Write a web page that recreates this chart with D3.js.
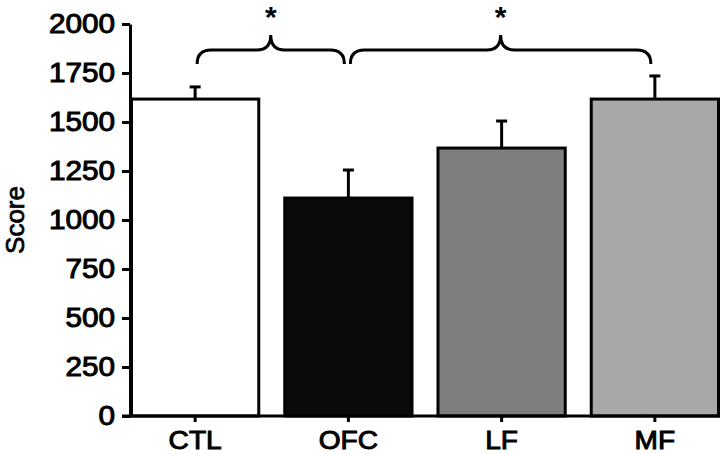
<!DOCTYPE html>
<html><head><meta charset="utf-8">
<script src="https://cdn.jsdelivr.net/npm/d3@7"></script>
<style>body{margin:0;background:#fff}svg{display:block}</style>
</head><body>
<svg id="c" width="720" height="454"></svg>
<script>
const categories = ["CTL", "OFC", "LF", "MF"];
const means = [1617, 1112, 1367, 1617];
const errors = [62, 143, 138, 118];
const fills = ["#ffffff", "#0a0a0a", "#7f7f7f", "#a8a8a8"];
const yTicks = [0, 250, 500, 750, 1000, 1250, 1500, 1750, 2000];
const brackets = [{from: "CTL", to: "OFC", label: "*"}, {from: "OFC", to: "MF", label: "*"}];

const svg = d3.select("#c");
const x = d3.scaleBand().domain(categories).range([130, 720]).paddingInner(0.15).paddingOuter(0.0);
const y = d3.scaleLinear().domain([0, 2000]).range([416, 24]);
const font = "Liberation Sans, Arial, sans-serif";
function widen(stretch) {
  return sel => sel.each(function() {
    const w = this.getComputedTextLength();
    d3.select(this).attr("textLength", w * stretch).attr("lengthAdjust", "spacingAndGlyphs");
  });
}

// bars
svg.selectAll("rect.bar").data(categories).enter().append("rect")
  .attr("x", d => x(d) + 1.5)
  .attr("y", (d, i) => y(means[i]))
  .attr("width", x.bandwidth() - 3)
  .attr("height", (d, i) => y(0) - y(means[i]))
  .attr("fill", (d, i) => fills[i])
  .attr("stroke", "#000").attr("stroke-width", 3);

// error bars
const eb = svg.append("g").attr("stroke", "#000").attr("stroke-width", 3);
categories.forEach((d, i) => {
  const cx = x(d) + x.bandwidth() / 2;
  eb.append("line").attr("x1", cx).attr("x2", cx).attr("y1", y(means[i])).attr("y2", y(means[i] + errors[i]));
  eb.append("line").attr("x1", cx - 5.5).attr("x2", cx + 5.5).attr("y1", y(means[i] + errors[i])).attr("y2", y(means[i] + errors[i]));
});

// y axis
const ya = svg.append("g").attr("transform", "translate(130,0)")
  .call(d3.axisLeft(y).tickValues(yTicks).tickFormat(d3.format("d")).tickSize(8).tickPadding(7).tickSizeOuter(0));
ya.select(".domain").attr("stroke-width", 3);
ya.selectAll(".tick line").attr("stroke-width", 3);
ya.selectAll("text").attr("font-family", font).attr("font-size", 27).attr("fill", "#000")
  .attr("stroke", "#000").attr("stroke-width", 1).call(widen(1.1));

// x axis baseline
const xa = svg.append("g").attr("transform", "translate(0,416)")
  .call(d3.axisBottom(x).tickSize(6).tickPadding(9).tickSizeOuter(0));
xa.select(".domain").attr("d", "M122,0H720").attr("stroke-width", 3);
xa.selectAll(".tick line").attr("stroke-width", 3);
xa.selectAll("text").attr("font-family", font).attr("font-size", 26).attr("fill", "#000")
  .attr("stroke", "#000").attr("stroke-width", 1).call(widen(1.08));

// y label
svg.append("text").attr("transform", "translate(24,220) rotate(-90)")
  .attr("text-anchor", "middle").attr("font-family", font).attr("font-size", 26)
  .attr("fill", "#000").attr("stroke", "#000").attr("stroke-width", 0.7).text("Score");

// braces
const yb = 64, yh = 50, yt = 35, r = 14;
brackets.forEach(b => {
  const x1 = x(b.from) + x.bandwidth() / 2 + 2;
  const x2 = x(b.to) + x.bandwidth() / 2 - 4;
  const xm = (x1 + x2) / 2;
  const p = d3.path();
  p.moveTo(x1, yb);
  p.quadraticCurveTo(x1, yh, x1 + r, yh);
  p.lineTo(xm - r, yh);
  p.quadraticCurveTo(xm, yh, xm, yt);
  p.quadraticCurveTo(xm, yh, xm + r, yh);
  p.lineTo(x2 - r, yh);
  p.quadraticCurveTo(x2, yh, x2, yb);
  svg.append("path").attr("d", p.toString()).attr("fill", "none").attr("stroke", "#000").attr("stroke-width", 3);
  svg.append("text").attr("x", xm).attr("y", 27).attr("text-anchor", "middle")
    .attr("font-family", font).attr("font-weight", "bold").attr("font-size", 30).text(b.label);
});
</script>
</body></html>
